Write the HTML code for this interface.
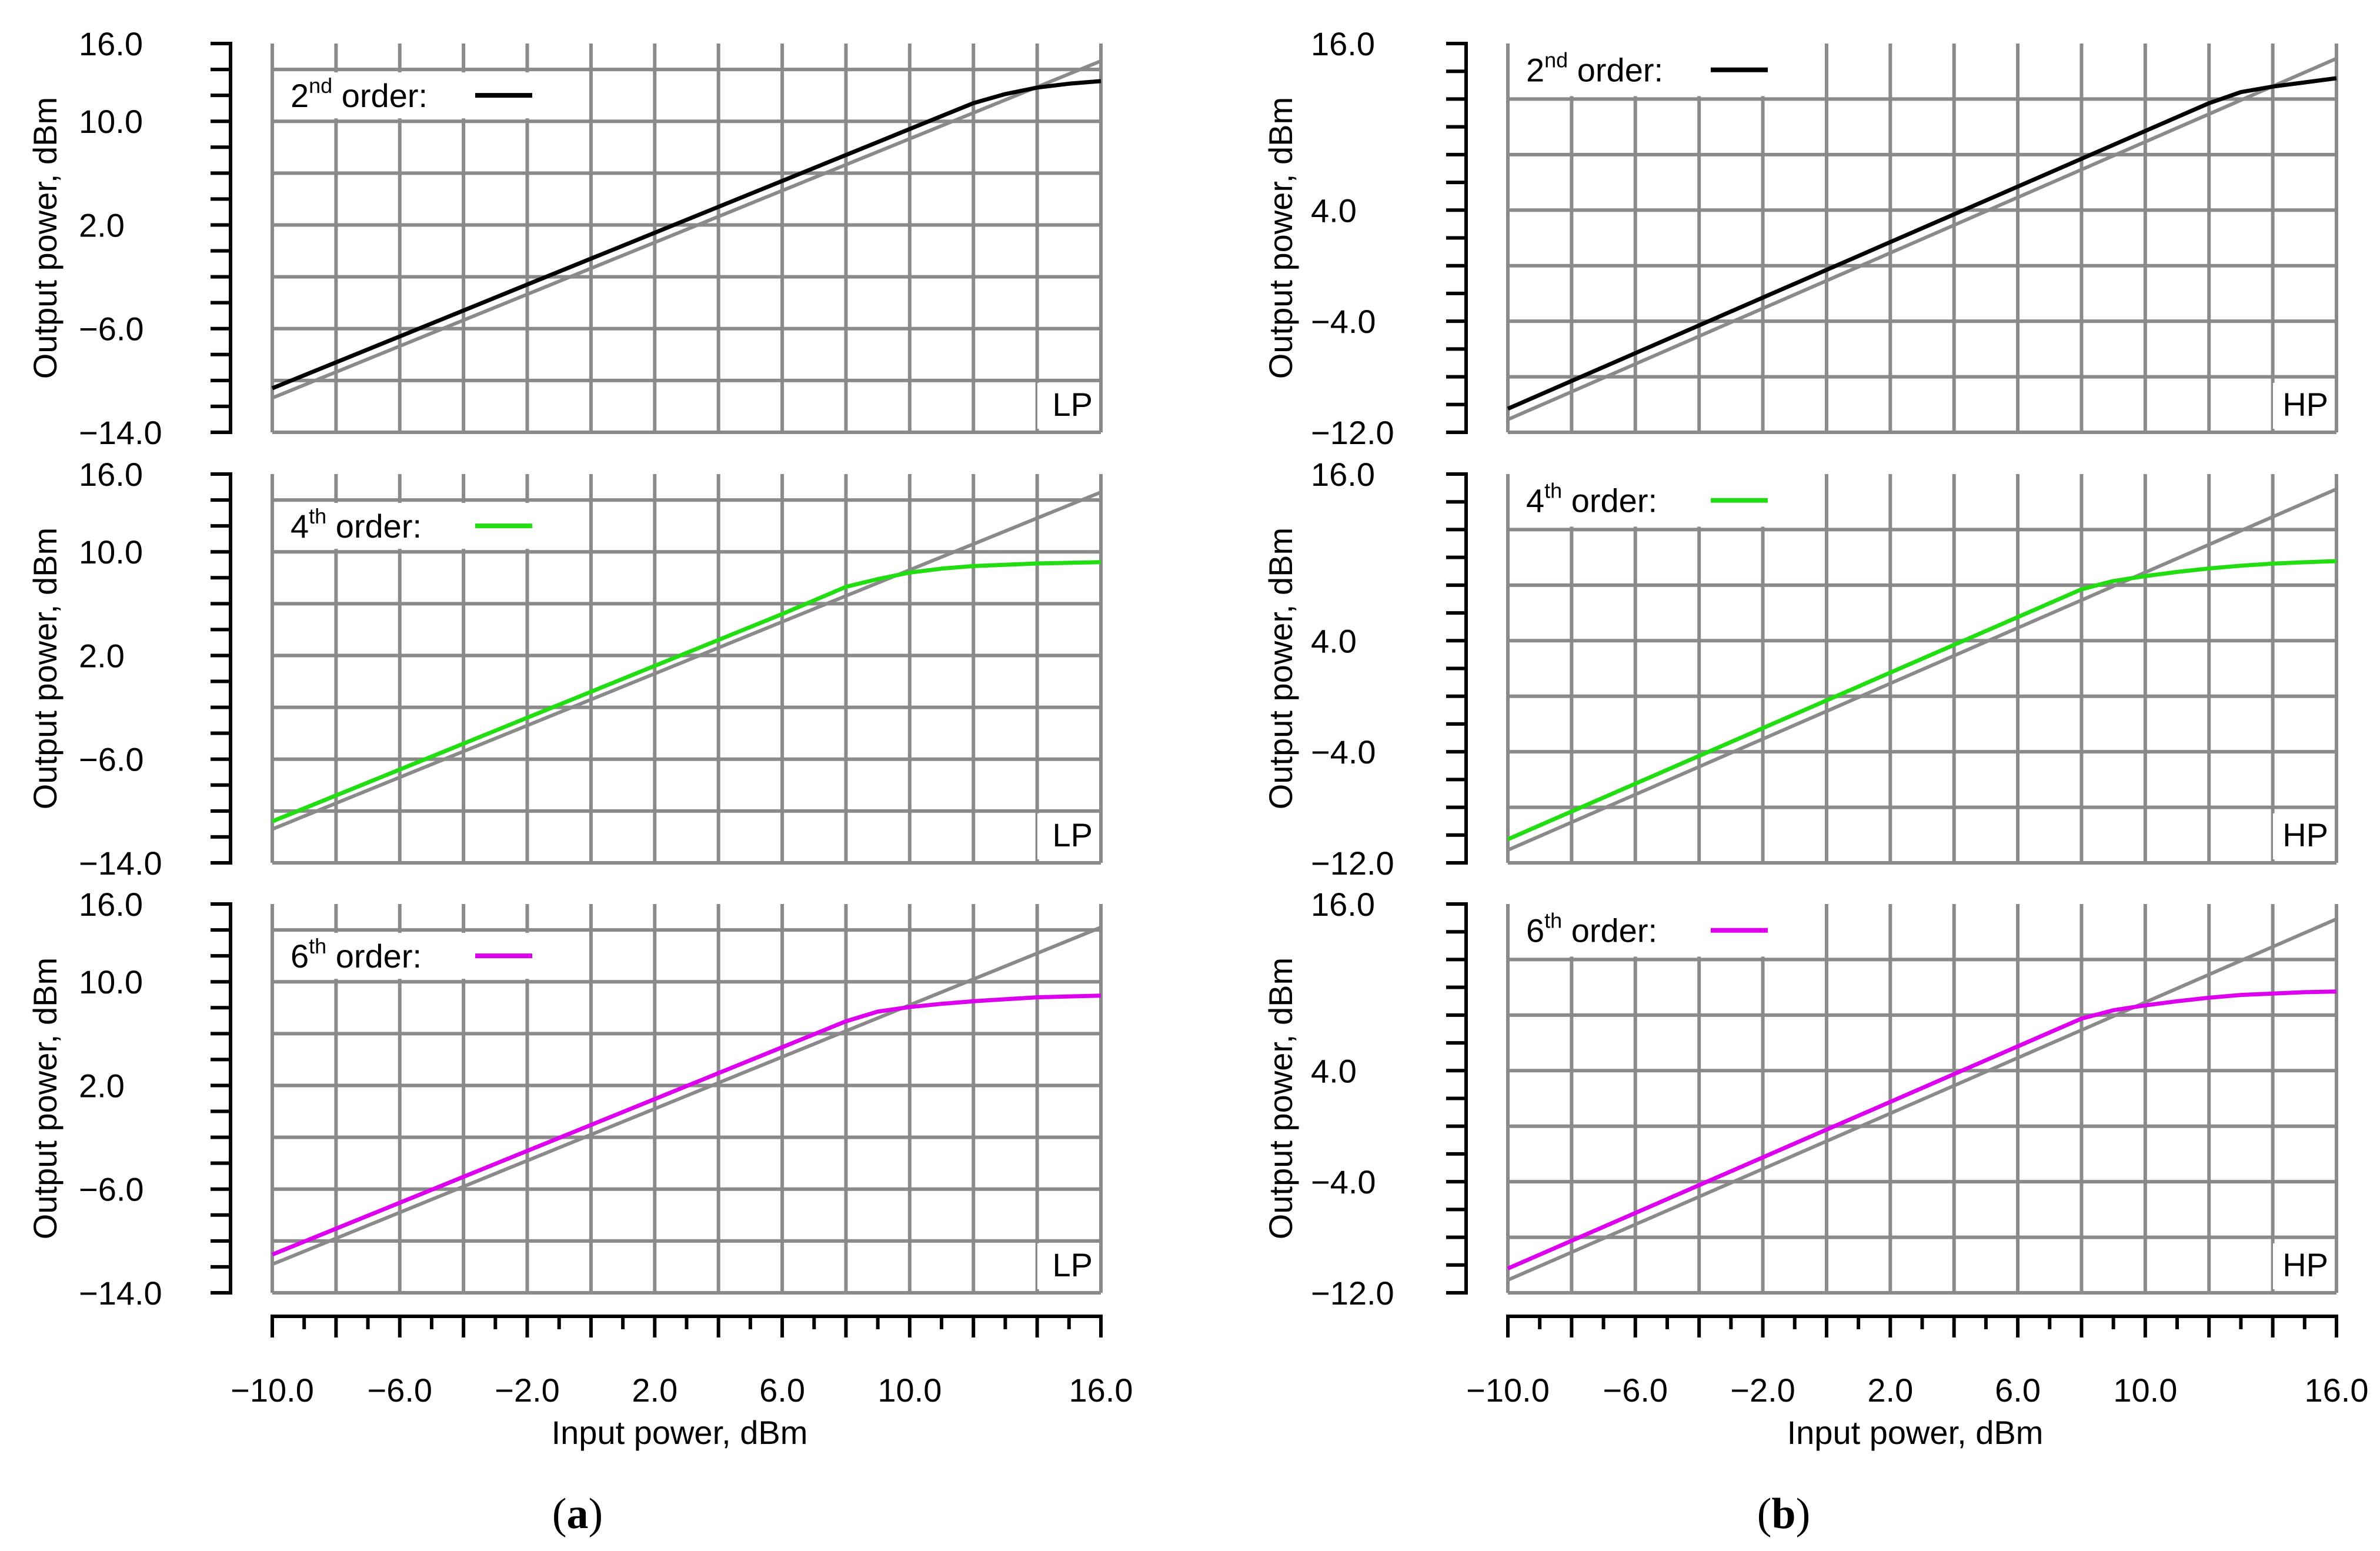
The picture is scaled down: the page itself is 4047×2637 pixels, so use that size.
<!DOCTYPE html>
<html><head><meta charset="utf-8">
<style>
html,body{margin:0;padding:0;background:#fff;}
svg{display:block;}
text{font-family:"Liberation Sans",sans-serif;}
text.serif{font-family:"Liberation Serif",serif;}
</style></head>
<body>
<svg id="chart" xmlns="http://www.w3.org/2000/svg" width="4047" height="2637" viewBox="0 0 4047 2637"></svg>
<script>
// ---- data ----
const xs = [-10,-6,-2,2,6,8,9,10,11,12,13,14,15,16];
const black_a = [-10.6,-6.6,-2.6,1.4,5.4,7.4,8.4,9.4,10.4,11.4,12.1,12.6,12.9,13.1];
const black_b = [-10.3,-6.3,-2.3,1.7,5.7,7.7,8.7,9.7,10.7,11.7,12.5,12.9,13.2,13.5];
const green_a = [-10.8,-6.8,-2.8,1.2,5.2,7.3,7.9,8.4,8.7,8.9,9.0,9.1,9.15,9.2];
const green_b = [-10.3,-6.3,-2.3,1.7,5.7,7.7,8.3,8.65,8.95,9.2,9.4,9.55,9.65,9.73];
const magenta_a = [-11.05,-7.05,-3.05,0.95,4.95,6.95,7.7,8.05,8.3,8.5,8.65,8.8,8.87,8.93];
const magenta_b = [-10.25,-6.25,-2.25,1.75,5.75,7.75,8.35,8.7,9.0,9.25,9.45,9.55,9.65,9.7];
const refX = [-10,16];
const ref_a_top = [-11.35,14.65];
const ref_a_mid = [-11.4,14.6];
const ref_a_bot = [-11.8,14.2];
const ref_b_top = [-11.08,14.92];
const ref_b_mid = [-11.08,14.92];
const ref_b_bot = [-11.08,14.92];
const xTickLabels = [-10,-6,-2,2,6,10,16];
const yTickLabels_a = [16,10,2,-6,-14];
const yTickLabels_b = [16,4,-4,-12];
const orders = ["2","4","6"];
const sups = ["nd","th","th"];

const NS="http://www.w3.org/2000/svg";
const svg=document.getElementById('chart');
function el(tag,attrs,parent){const e=document.createElementNS(NS,tag);for(const k in attrs)e.setAttribute(k,attrs[k]);(parent||svg).appendChild(e);return e;}
function fmt(v){return (v<0?"\u2212":"")+Math.abs(v).toFixed(1);}

const GRAY="#8a8a8a";
const cols=[
 {key:'a',axisX:392,left:463,right:1872,ymin:-14,ymax:16,hgrid:[-14,-10,-6,-2,2,6,10,14],ylabs:yTickLabels_a,labOff:258,legTop:14,legBot:10,legRight:935,tag:'LP',
  series:[black_a,green_a,magenta_a],refs:[ref_a_top,ref_a_mid,ref_a_bot]},
 {key:'b',axisX:2493,left:2564,right:3973,ymin:-12,ymax:16,hgrid:[-12,-8,-4,0,4,8,12],ylabs:yTickLabels_b,labOff:264,legTop:16,legBot:12,legRight:3010,tag:'HP',
  series:[black_b,green_b,magenta_b],refs:[ref_b_top,ref_b_mid,ref_b_bot]}
];
const tops=[74,806,1537], H=661;
const colors=["#000000","#22dd11","#dd00ee"];

cols.forEach(c=>{
  const sx=v=>c.left+(v+10)/26*(c.right-c.left);
  tops.forEach((top,pi)=>{
    const bot=top+H;
    const sy=v=>bot-(v-c.ymin)/(c.ymax-c.ymin)*H;
    const g=el('g',{});
    
    
    for(let x=-10;x<=16;x+=2){
      const l=el('line',{x1:sx(x),x2:sx(x),y1:top,y2:bot,stroke:GRAY,'stroke-width':6},g);
      
      
    }
    c.hgrid.forEach(v=>{
      const l=el('line',{x1:c.left,x2:c.right,y1:sy(v),y2:sy(v),stroke:GRAY,'stroke-width':6},g);
      
      
    });
    const ly1=(c.legTop===c.ymax)?top-4:sy(c.legTop)+5, ly2=sy(c.legBot)-5;
    const lb=el('rect',{x:c.left+4,y:ly1,width:c.legRight-c.left-4,height:ly2-ly1,fill:'#fff'},g);
    
    
    const midY=(Math.max(ly1,top)+ly2)/2;
    const t=el('text',{x:c.left+31,y:midY+20,'font-size':56,fill:'#000'},g);
    
    
    const t1=el('tspan',{},t);t1.textContent=orders[pi];
    const t2=el('tspan',{'font-size':36,dy:-24},t);t2.textContent=sups[pi];
    const t3=el('tspan',{dy:24},t);t3.textContent=" order:";
    const ll=el('line',{x1:c.left+345,x2:c.left+442,y1:midY,y2:midY,stroke:colors[pi],'stroke-width':8},g);
    
    
    const tb=el('rect',{x:c.right-108,y:bot-84,width:105,height:78,fill:'#fff'},g);
    
    
    const tt=el('text',{x:c.right-14,y:bot-28,'font-size':56,'text-anchor':'end',fill:'#000'},g);
    
    
    tt.textContent=c.tag;
    const ref=c.refs[pi];
    const rl=el('line',{x1:sx(refX[0]),y1:sy(ref[0]),x2:sx(refX[1]),y2:sy(ref[1]),stroke:GRAY,'stroke-width':6},g);
    
    
    const ser=c.series[pi];
    const pts=xs.map((x,i)=>sx(x).toFixed(1)+','+sy(ser[i]).toFixed(1)).join(' ');
    const pl=el('polyline',{points:pts,fill:'none',stroke:colors[pi],'stroke-width':7,'stroke-linejoin':'round'},g);
    
    
    const ax=el('line',{x1:c.axisX,x2:c.axisX,y1:top-3,y2:bot+3,stroke:'#000','stroke-width':6},g);
    
    
    for(let v=c.ymin;v<=c.ymax;v+=2){
      const tk=el('line',{x1:c.axisX-34,x2:c.axisX,y1:sy(v),y2:sy(v),stroke:'#000','stroke-width':6},g);
      
      
    }
    c.ylabs.forEach(v=>{
      const yl=el('text',{x:c.axisX-c.labOff,y:sy(v)+20,'font-size':56,fill:'#000'},g);
      
      
      yl.textContent=fmt(v);
    });
    const yt=el('text',{x:0,y:0,'font-size':56,'text-anchor':'middle',fill:'#000',transform:`translate(${c.axisX-296},${top+H/2}) rotate(-90)`},g);
    
    
    yt.textContent="Output power, dBm";
  });
  const xa=el('line',{x1:c.left-3,x2:c.right+3,y1:2238,y2:2238,stroke:'#000','stroke-width':6});
  
  
  for(let x=-10;x<=16;x+=1){
    const major=(x%2===0);
    const tk=el('line',{x1:sx(x),x2:sx(x),y1:2238,y2:major?2274:2260,stroke:'#000','stroke-width':6});
    
    
  }
  xTickLabels.forEach(v=>{
    const xl=el('text',{x:sx(v),y:2383,'font-size':56,'text-anchor':'middle',fill:'#000'});
    
    
    xl.textContent=fmt(v);
  });
  const xt=el('text',{x:(c.left+c.right)/2-12,y:2455,'font-size':56,'text-anchor':'middle',fill:'#000'});
  
  
  xt.textContent="Input power, dBm";
  const cap=el('text',{x:c.key==='a'?982:3033,y:2598,'font-size':74,'text-anchor':'middle',fill:'#000','class':'serif'});
  
  
  const c1=el('tspan',{},cap);c1.textContent="(";
  const c2=el('tspan',{'font-weight':'bold'},cap);c2.textContent=c.key;
  const c3=el('tspan',{},cap);c3.textContent=")";
});
</script>
</body></html>
